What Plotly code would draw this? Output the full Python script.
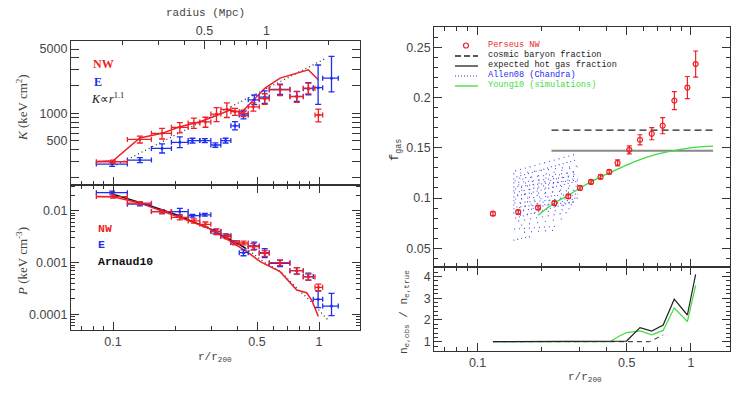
import math
import plotly.graph_objects as go

W, H = 741, 393
def px(x): return x / W
def py(y): return 1 - y / H

RED = "#ee1f26"
BLUE = "#1f2ef0"
GREEN = "#3fdc3f"
FRAME = "#333333"
TXT = "#444444"

# ---------------- left: entropy K ----------------
k_nw_x = [0.100, 0.135, 0.173, 0.211, 0.247, 0.281, 0.318, 0.357, 0.391, 0.430, 0.480, 0.545, 0.647, 0.780, 0.888, 0.993]
k_nw_xlo = [0.083, 0.1174, 0.1536, 0.1921, 0.2316, 0.2638, 0.2985, 0.3339, 0.3733, 0.4101, 0.4533, 0.5128, 0.5736, 0.7227, 0.8390, 0.9563]
k_nw_xhi = [0.1174, 0.1536, 0.1921, 0.2316, 0.2638, 0.2985, 0.3339, 0.3733, 0.4101, 0.4533, 0.5128, 0.5736, 0.7227, 0.8390, 0.9563, 1.042]
k_nw = [297, 520, 605, 703, 785, 805, 980, 1100, 1041, 1000, 1175, 1440, 1796, 1517, 1875, 958]
k_nw_err = [12, 45, 80, 90, 100, 100, 170, 200, 90, 80, 120, 190, 240, 200, 250, 150]

k_e_x = [0.099, 0.135, 0.173, 0.211, 0.243, 0.279, 0.314, 0.352, 0.391, 0.430, 0.485, 0.545, 0.647, 0.780, 0.888, 0.990, 1.15]
k_e_xlo = [0.083, 0.1174, 0.1536, 0.1921, 0.2316, 0.2638, 0.2985, 0.3339, 0.3733, 0.4101, 0.4533, 0.5128, 0.5736, 0.7227, 0.8390, 0.9380, 1.042]
k_e_xhi = [0.1174, 0.1536, 0.1921, 0.2316, 0.2638, 0.2985, 0.3339, 0.3733, 0.4101, 0.4533, 0.5128, 0.5736, 0.7227, 0.8390, 0.9380, 1.042, 1.24]
k_e = [280, 310, 415, 483, 505, 505, 452, 505, 730, 958, 1400, 1500, 1820, 1530, 1850, 1900, 2410]
k_e_errp = [15, 20, 50, 70, 30, 25, 25, 30, 80, 100, 180, 250, 250, 200, 300, 1450, 1750]
k_e_errm = [15, 20, 45, 60, 30, 25, 25, 30, 70, 90, 160, 220, 220, 180, 260, 650, 700]

k_model_x = [0.083, 0.100, 0.135, 0.173, 0.211, 0.264, 0.307, 0.337, 0.370, 0.421, 0.547, 0.647, 0.887, 0.992]
k_model = [299, 305, 538, 605, 714, 809, 918, 1000, 1087, 1025, 1875, 2410, 2970, 2311]
k_pl_x = [0.1, 1.09]
k_pl = [262, 4000]

# ---------------- left: pressure P ----------------
p_nw = [0.0189, 0.0141, 0.0097, 0.0075, 0.0064, 0.0055, 0.0040, 0.0032, 0.00244, 0.00240, 0.00204, 0.00152, 0.00100, 0.00070, 0.00053, 0.000334]
p_nw_err = [0.0012, 0.0010, 0.0008, 0.0008, 0.0006, 0.0006, 0.0005, 0.0003, 0.0002, 0.0002, 0.0003, 0.0002, 0.00012, 0.0001, 0.00007, 0.00005]
p_e = [0.0225, 0.0135, 0.0097, 0.0097, 0.0081, 0.0084, 0.0040, 0.0033, 0.00244, 0.00156, 0.0021, 0.00156, 0.00097, 0.00070, 0.00054, 0.000196, 0.000145]
p_e_errp = [0.0015, 0.0010, 0.0008, 0.0015, 0.0005, 0.0005, 0.0004, 0.0003, 0.0002, 0.0002, 0.0004, 0.0003, 0.00015, 0.0001, 0.00009, 0.00009, 0.00011]
p_e_errm = [0.0015, 0.0010, 0.0008, 0.0013, 0.0005, 0.0005, 0.0004, 0.0003, 0.0002, 0.0002, 0.0003, 0.0003, 0.00013, 0.0001, 0.00008, 0.00006, 0.00005]

p_model_x = [0.083, 0.100, 0.135, 0.173, 0.211, 0.25, 0.30, 0.35, 0.384, 0.45, 0.518, 0.647, 0.78, 0.871, 0.921, 0.993]
p_model = [0.0190, 0.0188, 0.0142, 0.0100, 0.0076, 0.0058, 0.0044, 0.0030, 0.0023, 0.0016, 0.00105, 0.00067, 0.000296, 0.000263, 0.00019, 0.000091]
arnaud_x = [0.1, 0.15, 0.2, 0.25, 0.3, 0.35, 0.4, 0.44]
arnaud_p = [0.021, 0.0128, 0.0086, 0.0060, 0.0044, 0.0031, 0.0024, 0.0019]
arnaud_ext_x = [0.44, 0.55, 0.65, 0.8, 0.9, 1.0, 1.1]
arnaud_ext_p = [0.0019, 0.00098, 0.00068, 0.00029, 0.00019, 0.00012, 0.00008]

# ---------------- right: gas fraction ----------------
fgas_x = [0.118, 0.155, 0.192, 0.229, 0.266, 0.302, 0.340, 0.377, 0.414, 0.453, 0.514, 0.577, 0.655, 0.737, 0.836, 0.962, 1.052]
fgas = [0.0844, 0.0860, 0.0904, 0.0950, 0.1017, 0.1100, 0.1160, 0.1210, 0.1260, 0.1350, 0.1480, 0.1580, 0.1640, 0.1720, 0.1970, 0.2100, 0.2334]
fgas_err = [0.002, 0.002, 0.002, 0.002, 0.002, 0.002, 0.002, 0.002, 0.002, 0.003, 0.004, 0.005, 0.006, 0.008, 0.009, 0.011, 0.013]
ref_x = [0.222, 1.27]
cosmic_baryon = 0.1676
hot_gas = 0.147
young_x = [0.192, 0.229, 0.266, 0.302, 0.377, 0.456, 0.557, 0.688, 0.854, 1.06, 1.27]
young_f = [0.0828, 0.095, 0.1027, 0.110, 0.121, 0.129, 0.137, 0.1434, 0.1477, 0.1507, 0.1517]

# Allen08 cluster profiles (dotted): start / end radius and gas fraction
allen_x0 = [0.150, 0.147, 0.152, 0.147, 0.149, 0.147, 0.155, 0.147, 0.150, 0.147, 0.148, 0.153, 0.147, 0.150, 0.147, 0.149, 0.147, 0.152, 0.147, 0.150, 0.147, 0.158, 0.150, 0.155, 0.160, 0.148, 0.165, 0.147]
allen_x1 = [0.292, 0.296, 0.290, 0.296, 0.294, 0.296, 0.288, 0.296, 0.293, 0.296, 0.294, 0.291, 0.296, 0.290, 0.296, 0.293, 0.296, 0.289, 0.296, 0.292, 0.296, 0.285, 0.290, 0.270, 0.262, 0.240, 0.235, 0.180]
allen_f0 = [0.127, 0.124, 0.121, 0.119, 0.117, 0.115, 0.113, 0.111, 0.109, 0.107, 0.105, 0.103, 0.101, 0.099, 0.097, 0.095, 0.093, 0.091, 0.089, 0.087, 0.085, 0.083, 0.080, 0.077, 0.073, 0.069, 0.066, 0.058]
allen_f1 = [0.144, 0.132, 0.138, 0.126, 0.131, 0.122, 0.127, 0.118, 0.124, 0.113, 0.120, 0.108, 0.117, 0.104, 0.112, 0.100, 0.108, 0.096, 0.104, 0.094, 0.100, 0.090, 0.097, 0.086, 0.080, 0.072, 0.068, 0.062]

# ---------------- right: density ratio ----------------
ratio_x = [0.118, 0.45, 0.499, 0.577, 0.655, 0.741, 0.835, 0.962, 1.052]
ratio_black = [1.0, 1.0, 1.03, 1.65, 1.49, 1.77, 2.96, 2.23, 4.1]
ratio_green_x = [0.118, 0.418, 0.46, 0.50, 0.577, 0.655, 0.741, 0.835, 0.962, 1.052]
ratio_green = [1.0, 1.0, 1.25, 1.42, 1.50, 1.32, 1.52, 2.55, 1.93, 3.6]
ratio_dash_x = [0.118, 0.64, 0.741]
ratio_dash = [1.0, 1.0, 1.31]

r200_mpc = 1.8

fig = go.Figure()

def err_cross(x, y, xlo, xhi, ep, em, color, xa, ya, size=3):
    fig.add_trace(go.Scatter(
        x=x, y=y, mode="markers", xaxis=xa, yaxis=ya, showlegend=False,
        marker=dict(color=color, size=size),
        error_x=dict(type="data", symmetric=False,
                     array=[h - v for h, v in zip(xhi, x)],
                     arrayminus=[v - l for v, l in zip(x, xlo)],
                     color=color, thickness=1.3, width=2.5),
        error_y=dict(type="data", symmetric=False, array=ep, arrayminus=em,
                     color=color, thickness=1.3, width=3),
        hoverinfo="skip"))

# K panel
fig.add_trace(go.Scatter(x=k_pl_x, y=k_pl, mode="lines", xaxis="x", yaxis="y",
                         line=dict(color="#222", width=1.2, dash="1px,3px"), showlegend=False))
fig.add_trace(go.Scatter(x=k_model_x, y=k_model, mode="lines", xaxis="x", yaxis="y",
                         line=dict(color=RED, width=1.5), showlegend=False))
err_cross(k_e_x, k_e, k_e_xlo, k_e_xhi, k_e_errp, k_e_errm, BLUE, "x", "y")
err_cross(k_nw_x, k_nw, k_nw_xlo, k_nw_xhi, k_nw_err, k_nw_err, RED, "x", "y")
fig.add_trace(go.Scatter(x=[1.0], y=[1000], xaxis="x5", yaxis="y", mode="markers",
                         marker=dict(opacity=0), showlegend=False, hoverinfo="skip"))

# P panel
fig.add_trace(go.Scatter(x=arnaud_ext_x, y=arnaud_ext_p, mode="lines", xaxis="x2", yaxis="y2",
                         line=dict(color="#222", width=1.2, dash="1px,3px"), showlegend=False))
fig.add_trace(go.Scatter(x=arnaud_x, y=arnaud_p, mode="lines", xaxis="x2", yaxis="y2",
                         line=dict(color="#111", width=1.5), showlegend=False))
fig.add_trace(go.Scatter(x=p_model_x, y=p_model, mode="lines", xaxis="x2", yaxis="y2",
                         line=dict(color=RED, width=1.5), showlegend=False))
err_cross(k_e_x, p_e, k_e_xlo, k_e_xhi, p_e_errp, p_e_errm, BLUE, "x2", "y2")
err_cross(k_nw_x, p_nw, k_nw_xlo, k_nw_xhi, p_nw_err, p_nw_err, RED, "x2", "y2")

# fgas panel
dashes = ["1px,4px", "1px,6px", "1px,3px", "1px,5px", "1px,7px"]
for i, (x0, x1, f0, f1) in enumerate(zip(allen_x0, allen_x1, allen_f0, allen_f1)):
    fig.add_trace(go.Scatter(x=[x0, x1], y=[f0, f1], mode="lines", xaxis="x3", yaxis="y3",
                             line=dict(color=BLUE, width=1.1, dash=dashes[i % len(dashes)]),
                             opacity=0.85, showlegend=False, hoverinfo="skip"))
fig.add_trace(go.Scatter(x=ref_x, y=[cosmic_baryon] * len(ref_x), mode="lines", xaxis="x3", yaxis="y3",
                         line=dict(color="#222", width=1.3, dash="7px,4px"), showlegend=False))
fig.add_trace(go.Scatter(x=ref_x, y=[hot_gas] * len(ref_x), mode="lines", xaxis="x3", yaxis="y3",
                         line=dict(color="#888", width=2), showlegend=False))
fig.add_trace(go.Scatter(x=young_x, y=young_f, mode="lines", xaxis="x3", yaxis="y3",
                         line=dict(color=GREEN, width=1.3, shape="spline"), showlegend=False))
fig.add_trace(go.Scatter(x=fgas_x, y=fgas, mode="markers", xaxis="x3", yaxis="y3",
                         marker=dict(symbol="circle-open", color=RED, size=5, line=dict(width=1.2)),
                         error_y=dict(type="data", array=fgas_err, color=RED, thickness=1.2, width=2.5),
                         showlegend=False))

# ratio panel
fig.add_trace(go.Scatter(x=ratio_dash_x, y=ratio_dash, mode="lines", xaxis="x4", yaxis="y4",
                         line=dict(color="#222", width=1, dash="5px,4px"), showlegend=False))
fig.add_trace(go.Scatter(x=ratio_green_x, y=ratio_green, mode="lines", xaxis="x4", yaxis="y4",
                         line=dict(color=GREEN, width=1.2), showlegend=False))
fig.add_trace(go.Scatter(x=ratio_x, y=ratio_black, mode="lines", xaxis="x4", yaxis="y4",
                         line=dict(color="#222", width=1.2), showlegend=False))

tickfont = dict(family="Liberation Sans", size=12.5, color=TXT)

def logaxis(domain, rng, major, labels, minor, anchor, showlabels=True, mirror="allticks", side=None, overlaying=None):
    d = dict(type="log", domain=domain, range=rng, anchor=anchor,
             tickmode="array", tickvals=major, ticktext=labels,
             ticks="inside", ticklen=8, tickwidth=1, tickcolor=FRAME,
             minor=dict(tickmode="array", tickvals=minor, ticks="inside", ticklen=4, tickcolor=FRAME, tickwidth=1),
             showline=True, linecolor=FRAME, linewidth=1.3, mirror=mirror,
             showgrid=False, zeroline=False, showticklabels=showlabels, tickfont=tickfont)
    if side:
        d["side"] = side
    if overlaying:
        d["overlaying"] = overlaying
    return d

def linaxis(domain, rng, major, labels, dminor, anchor):
    return dict(type="linear", domain=domain, range=rng, anchor=anchor,
                tickmode="array", tickvals=major, ticktext=labels,
                ticks="inside", ticklen=8, tickwidth=1, tickcolor=FRAME,
                minor=dict(dtick=dminor, ticks="inside", ticklen=4, tickcolor=FRAME, tickwidth=1),
                showline=True, linecolor=FRAME, linewidth=1.3, mirror="allticks",
                showgrid=False, zeroline=False, tickfont=tickfont)

xl = [px(71), px(360)]
xr = [px(434.3), px(730)]
x_minor = [0.07, 0.08, 0.09, 0.2, 0.3, 0.4, 0.6, 0.7, 0.8, 0.9]
x_labels = ["0.1", "0.5", "1"]
xr_log = [-1.204, 0.199]
xr_log_r = [-1.203, 0.183]
shift = math.log10(r200_mpc)

fig.update_layout(
    width=W, height=H, margin=dict(l=0, r=0, t=0, b=0),
    paper_bgcolor="white", plot_bgcolor="white", showlegend=False,
    xaxis=logaxis(xl, xr_log, [0.1, 0.5, 1], x_labels, x_minor, "y", showlabels=False, mirror=True),
    xaxis5=logaxis(xl, [xr_log[0] + shift, xr_log[1] + shift], [0.5, 1], ["0.5", "1"],
                   [0.2, 0.3, 0.4, 0.6, 0.7, 0.8, 0.9, 2], "y", side="top", overlaying="x", mirror=False),
    yaxis=logaxis([py(185), py(41)], [2.22, 3.786], [500, 1000, 5000], ["500", "1000", "5000"],
                  [200, 300, 400, 600, 700, 800, 900, 2000, 3000, 4000], "x"),
    xaxis2=logaxis(xl, xr_log, [0.1, 0.5, 1], x_labels, x_minor, "y2", mirror="ticks"),
    yaxis2=logaxis([py(330), py(185)], [-4.30, -1.50], [1e-4, 1e-3, 1e-2], ["0.0001", "0.001", "0.01"],
                   [6e-5, 7e-5, 8e-5, 9e-5, 2e-4, 3e-4, 4e-4, 5e-4, 6e-4, 7e-4, 8e-4, 9e-4,
                    2e-3, 3e-3, 4e-3, 5e-3, 6e-3, 7e-3, 8e-3, 9e-3, 2e-2, 3e-2], "x2"),
    xaxis3=logaxis(xr, xr_log_r, [0.1, 0.5, 1], x_labels, x_minor, "y3", showlabels=False),
    yaxis3=linaxis([py(267.3), py(27.3)], [0.031, 0.27], [0.05, 0.1, 0.15, 0.2, 0.25],
                   ["0.05", "0.1", "0.15", "0.2", "0.25"], 0.01, "x3"),
    xaxis4=logaxis(xr, xr_log_r, [0.1, 0.5, 1], x_labels, x_minor, "y4", mirror="ticks"),
    yaxis4=linaxis([py(351), py(267.3)], [0.57, 4.43], [1, 2, 3, 4], ["1", "2", "3", "4"], 0.2, "x4"),
)

lab = dict(family="Liberation Mono", size=11, color=TXT)
ann = []
def A(text, x, y, font, angle=0, xanchor="center"):
    ann.append(dict(text=text, x=px(x), y=py(y), xref="paper", yref="paper", showarrow=False,
                    font=font, textangle=angle, xanchor=xanchor, yanchor="middle"))

A("radius (Mpc)", 205, 13, lab)
A("<i>K</i> (keV cm<sup>2</sup>)", 22, 108, dict(family="Liberation Serif", size=13, color=TXT), -90)
A("<i>P</i> (keV cm<sup>-3</sup>)", 22, 262, dict(family="Liberation Serif", size=13, color=TXT), -90)
A("r/r<sub>200</sub>", 215, 357, lab)
A("r/r<sub>200</sub>", 585, 377, lab)
A("f<sub>gas</sub>", 396, 150, dict(lab, size=12), -90)
A("n<sub>e,obs</sub> / n<sub>e,true</sub>", 404, 312, lab, -90)

bs = dict(family="Liberation Serif", size=12, color=RED)
A("<b>NW</b>", 91, 64, bs, xanchor="left")
A("<b>E</b>", 92, 82, dict(family="Liberation Serif", size=12, color=BLUE), xanchor="left")
A("<i>K</i>\u221d<i>r</i><sup>1.1</sup>", 89, 99, dict(family="Liberation Serif", size=12, color="#111"), xanchor="left")

bm = dict(family="Liberation Mono", size=11.5)
A("<b>NW</b>", 96, 228, dict(bm, color=RED), xanchor="left")
A("<b>E</b>", 96, 244, dict(bm, color=BLUE), xanchor="left")
A("<b>Arnaud10</b>", 96, 261, dict(bm, color="#111"), xanchor="left")

lg = dict(family="Liberation Mono", size=8.6)
A("Perseus NW", 486, 45, dict(lg, color=RED), xanchor="left")
A("cosmic baryon fraction", 486, 55, dict(lg, color="#222"), xanchor="left")
A("expected hot gas fraction", 486, 65, dict(lg, color="#222"), xanchor="left")
A("Allen08 (Chandra)", 486, 75, dict(lg, color=BLUE), xanchor="left")
A("Young10 (simulations)", 486, 85, dict(lg, color=GREEN), xanchor="left")

shapes = [
    dict(type="circle", xref="paper", yref="paper", x0=px(463.5), x1=px(468.5), y0=py(48), y1=py(43),
         line=dict(color=RED, width=1.2)),
    dict(type="line", xref="paper", yref="paper", x0=px(455), x1=px(478), y0=py(56), y1=py(56),
         line=dict(color="#222", width=1.3, dash="6px,3px")),
    dict(type="line", xref="paper", yref="paper", x0=px(455), x1=px(478), y0=py(66), y1=py(66),
         line=dict(color="#222", width=1.3)),
    dict(type="line", xref="paper", yref="paper", x0=px(455), x1=px(478), y0=py(76), y1=py(76),
         line=dict(color=BLUE, width=1.2, dash="1px,2px")),
    dict(type="line", xref="paper", yref="paper", x0=px(455), x1=px(478), y0=py(86), y1=py(86),
         line=dict(color=GREEN, width=1.3)),
]
fig.update_layout(annotations=ann, shapes=shapes)

fig.write_html("out.html", config={"displayModeBar": False},
               post_script="document.body.style.margin='0px';document.body.style.padding='0px';")
